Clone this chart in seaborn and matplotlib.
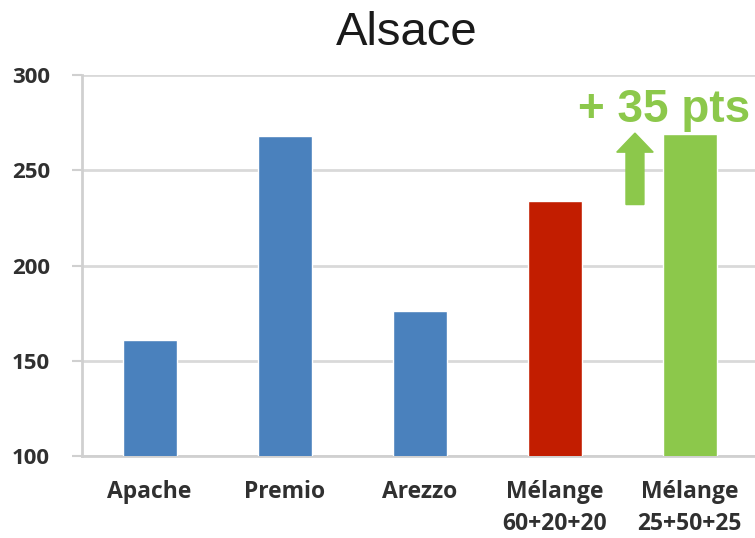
import matplotlib
matplotlib.use("Agg")
import matplotlib.pyplot as plt
import matplotlib.patches as mpatches
from matplotlib.ticker import FixedLocator
import seaborn as sns
import pandas as pd

categories = ["Apache", "Premio", "Arezzo", "Mélange\n60+20+20", "Mélange\n25+50+25"]
values = [161, 268, 176, 234, 269]
colors = ["#4A81BD", "#4A81BD", "#4A81BD", "#C21D00", "#8CC84B"]
title = "Alsace"
annotation = "+ 35 pts"
arrow_from, arrow_to = 232, 269.5
yticks = [100, 150, 200, 250, 300]

sns.set_style("white")
plt.rcParams['font.family'] = ['Liberation Sans', 'DejaVu Sans']

fig = plt.figure(figsize=(7.55, 5.38), dpi=100)
ax = fig.add_axes([82/755, 1 - 456/538, 675/755, (456 - 75)/538])

df = pd.DataFrame({"cat": categories, "val": values})
sns.barplot(data=df, x="cat", y="val", hue="cat", palette=colors, width=0.4,
            legend=False, ax=ax, saturation=1, zorder=3)

ax.set_ylim(100, 300)
ax.set_xlim(-0.5, 4.5)
ax.set_yticks(yticks)
ax.yaxis.grid(True, color="#D9D9D9", linewidth=2, zorder=0)
ax.set_axisbelow(True)
ax.set_xlabel("")
ax.set_ylabel("")
for s in ["top", "right"]:
    ax.spines[s].set_visible(False)
for s in ["left", "bottom"]:
    ax.spines[s].set_color("#D0D0D0")
    ax.spines[s].set_linewidth(2)

tick_font = dict(family=['Open Sans', 'DejaVu Sans'], weight='bold', size=16.5)
ax.set_xticks(range(len(categories)))
ax.set_xticklabels(categories, color="#303030", fontdict=tick_font, linespacing=1.45)
ax.set_yticklabels([str(t) for t in yticks], color="#303030",
                   fontdict=dict(family=['Open Sans', 'DejaVu Sans'], weight='bold', size=16))
ax.tick_params(axis="x", which="major", length=0, pad=17)
ax.xaxis.set_minor_locator(FixedLocator([i - 0.5 for i in range(len(categories) + 1)]))
ax.tick_params(axis="x", which="minor", length=7, width=1.5, color="#D0D0D0", direction="out")
ax.tick_params(axis="y", length=7, width=1.5, color="#D0D0D0", direction="out", pad=16, left=True)

# arrow and annotation
arrow = mpatches.FancyArrow(3.596, arrow_from, 0, arrow_to - arrow_from,
                            width=0.133, head_width=0.27, head_length=10,
                            length_includes_head=True, color="#8CC84B", zorder=4)
ax.add_patch(arrow)
ax.text(3.174, 281.5, annotation, color="#8CC84B", fontsize=33, fontweight="bold",
        ha="left", va="center", clip_on=False, family=['Liberation Sans'])

fig.text(407/755, 1 - 33/538, title, ha="center", va="center", fontsize=34,
         color="#1a1a1a", family=['Liberation Sans'])

fig.savefig("out.png", dpi=100)
